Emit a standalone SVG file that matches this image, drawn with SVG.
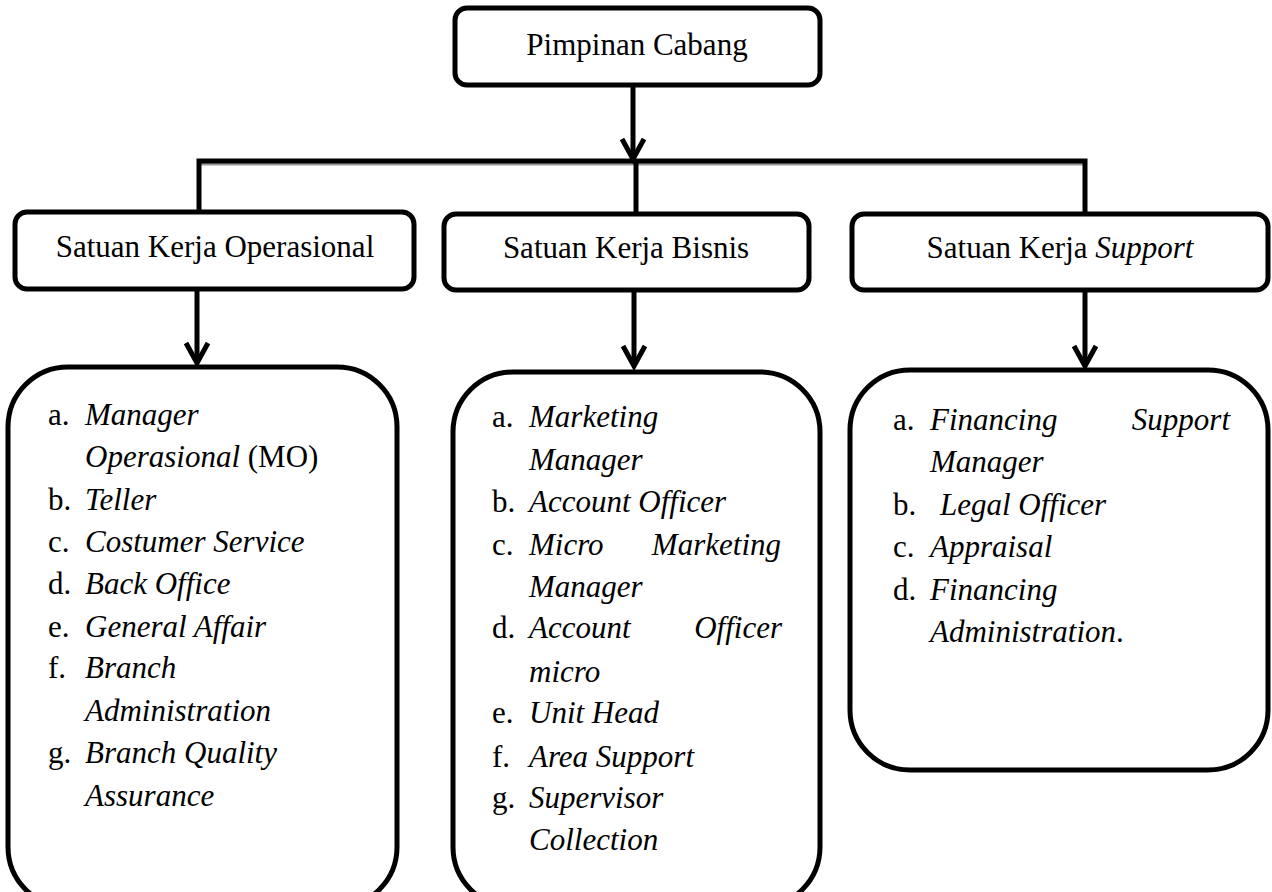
<svg xmlns="http://www.w3.org/2000/svg" width="1272" height="892" viewBox="0 0 1272 892">
<style>
.box{fill:#fff;stroke:#000;stroke-width:5}
.ln{fill:none;stroke:#000;stroke-width:5}
.sh{fill:none;stroke:#999;stroke-width:3}
.t{font-family:"Liberation Serif","Times New Roman",serif;font-size:31px;fill:#000}
.c{text-anchor:middle}
.i{font-style:italic}
.e{text-anchor:end}
</style>
<defs>
<marker id="chev" markerUnits="userSpaceOnUse" markerWidth="32" markerHeight="32" refX="26" refY="16" orient="auto" viewBox="0 0 32 32">
<path d="M6,5 L26,16 L6,27" fill="none" stroke="#000" stroke-width="5" stroke-linejoin="miter"/>
</marker>
</defs>
<rect width="1272" height="892" fill="#fff"/>
<g id="connectors">
<path class="sh" d="M199,164 H1085"/>
<path class="ln" d="M199,214 V161 H1085 V216"/>
<path class="ln" d="M636,161 V216"/>
<path class="ln" d="M633,86 V159" marker-end="url(#chev)"/>
<path class="ln" d="M197,290 V363" marker-end="url(#chev)"/>
<path class="ln" d="M634,291 V366" marker-end="url(#chev)"/>
<path class="ln" d="M1085,291 V366" marker-end="url(#chev)"/>
</g>
<g id="pimpinan">
<rect class="box" x="455" y="8" width="365" height="77" rx="12"/>
<text class="t c" x="637" y="55">Pimpinan Cabang</text>
</g>
<g id="sk-operasional">
<rect class="box" x="15" y="212" width="399" height="77" rx="12"/>
<text class="t c" x="215" y="257">Satuan Kerja Operasional</text>
</g>
<g id="sk-bisnis">
<rect class="box" x="444" y="214" width="365" height="76" rx="12"/>
<text class="t c" x="626" y="258">Satuan Kerja Bisnis</text>
</g>
<g id="sk-support">
<rect class="box" x="852" y="214" width="416" height="76" rx="12"/>
<text class="t c" x="1060" y="258">Satuan Kerja <tspan class="i">Support</tspan></text>
</g>
<g id="list-operasional">
<rect class="box" x="8" y="367" width="389" height="540" rx="60"/>
<text class="t" x="48" y="425">a.</text><text class="t i" x="85" y="425">Manager</text>
<text class="t" x="85" y="467"><tspan class="i">Operasional</tspan> (MO)</text>
<text class="t" x="48" y="510">b.</text><text class="t i" x="85" y="510">Teller</text>
<text class="t" x="48" y="552">c.</text><text class="t i" x="85" y="552">Costumer Service</text>
<text class="t" x="48" y="594">d.</text><text class="t i" x="85" y="594">Back Office</text>
<text class="t" x="48" y="637">e.</text><text class="t i" x="85" y="637">General Affair</text>
<text class="t" x="48" y="678">f.</text><text class="t i" x="85" y="678">Branch</text>
<text class="t i" x="85" y="721">Administration</text>
<text class="t" x="48" y="763">g.</text><text class="t i" x="85" y="763">Branch Quality</text>
<text class="t i" x="85" y="806">Assurance</text>
</g>
<g id="list-bisnis">
<rect class="box" x="453" y="372" width="367" height="535" rx="60"/>
<text class="t" x="492" y="427">a.</text><text class="t i" x="529" y="427">Marketing</text>
<text class="t i" x="529" y="470">Manager</text>
<text class="t" x="492" y="512">b.</text><text class="t i" x="529" y="512">Account Officer</text>
<text class="t" x="492" y="555">c.</text><text class="t i" x="529" y="555">Micro</text><text class="t i e" x="781" y="555">Marketing</text>
<text class="t i" x="529" y="597">Manager</text>
<text class="t" x="492" y="638">d.</text><text class="t i" x="529" y="638">Account</text><text class="t i e" x="782" y="638">Officer</text>
<text class="t i" x="529" y="682">micro</text>
<text class="t" x="492" y="723">e.</text><text class="t i" x="529" y="723">Unit Head</text>
<text class="t" x="492" y="767">f.</text><text class="t i" x="529" y="767">Area Support</text>
<text class="t" x="492" y="808">g.</text><text class="t i" x="529" y="808">Supervisor</text>
<text class="t i" x="529" y="850">Collection</text>
</g>
<g id="list-support">
<rect class="box" x="850" y="370" width="418" height="400" rx="60"/>
<text class="t" x="893" y="430">a.</text><text class="t i" x="930" y="430">Financing</text><text class="t i e" x="1230" y="430">Support</text>
<text class="t i" x="930" y="472">Manager</text>
<text class="t" x="893" y="515">b.</text><text class="t i" x="940" y="515">Legal Officer</text>
<text class="t" x="893" y="557">c.</text><text class="t i" x="930" y="557">Appraisal</text>
<text class="t" x="893" y="600">d.</text><text class="t i" x="930" y="600">Financing</text>
<text class="t" x="930" y="642"><tspan class="i">Administration</tspan>.</text>
</g>
</svg>
